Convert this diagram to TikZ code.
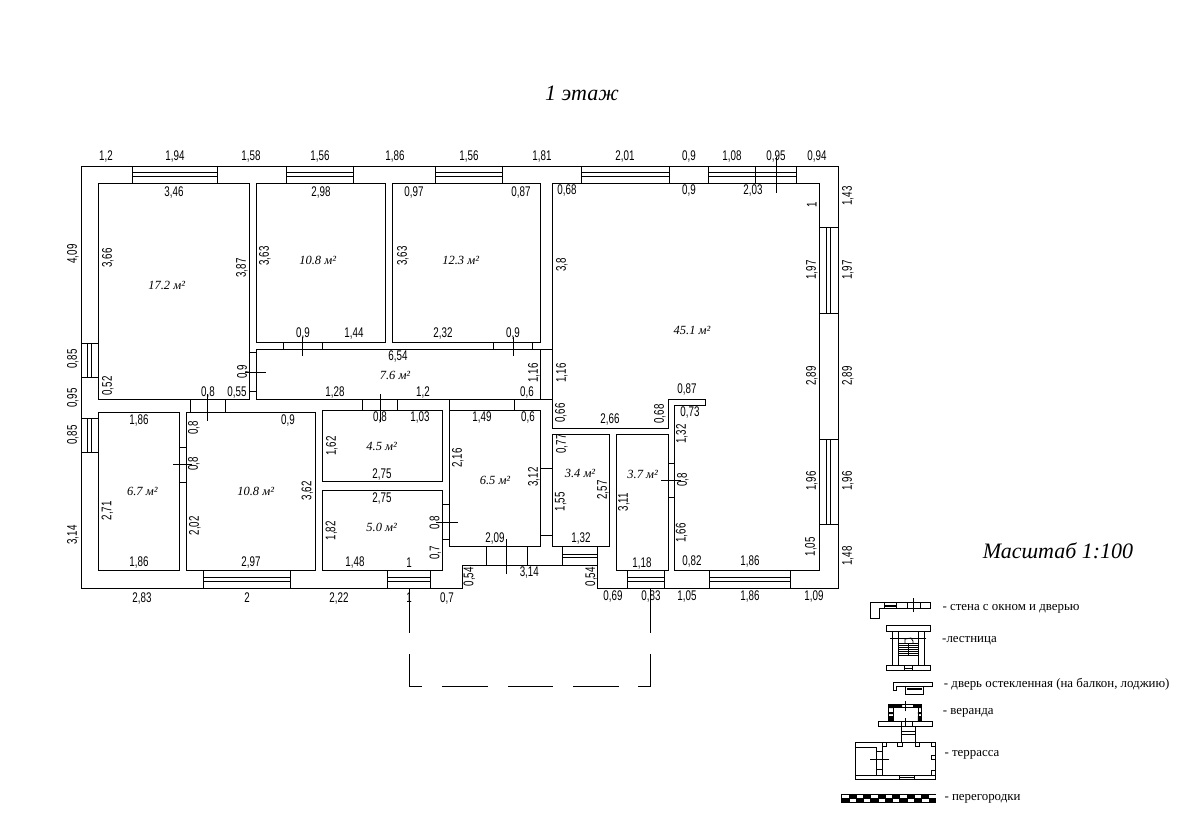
\documentclass[tikz,border=0pt]{standalone}
\usepackage{fontspec}
\setmainfont{Liberation Serif}
\newfontfamily\dimfont{Liberation Sans}
\usepackage{tikz}
\tikzset{
 wall/.style={line width=1pt,line cap=rect,line join=miter},
 hdim/.style={font=\dimfont\fontsize{14}{14}\selectfont,yshift=-1pt,xscale=.7,inner sep=0pt},
 vdim/.style={font=\dimfont\fontsize{14}{14}\selectfont,xshift=.8pt,rotate=90,xscale=.7,inner sep=0pt},
 area/.style={font=\itshape\fontsize{12.5}{13}\selectfont,inner sep=0pt},
 head/.style={font=\itshape\fontsize{22}{24}\selectfont,inner sep=0pt},
 note/.style={font=\fontsize{12.9}{14}\selectfont,yshift=-2.5pt,inner sep=0pt,anchor=west},
 thin wall/.style={line width=.8pt,line cap=rect}
}
\begin{document}
\begin{tikzpicture}[x=1pt,y=-1pt]
\useasboundingbox (0,0) rectangle (1188,822);

\path (582,93) node[name=title,head] {1 этаж};
\path (1058,551) node[name=scale,head] {Масштаб 1:100};

\draw[wall] (81,166) -- (838,166) -- (838,588) -- (597.5,588) -- (597.5,565) -- (462,565) -- (462,588) -- (81,588) -- cycle;

\foreach \a/\b/\c/\d in {98.3/183.3/249.3/399.3, 256.3/183.3/385.3/342.3, 392.3/183.3/540.3/342.3,
    256.3/349.3/540.3/399.3, 98.3/412.3/179.3/570.3, 186.3/412.3/315.7/570.3, 322.3/410.3/442.7/481.3,
    322.3/490.3/442.7/570.3, 449.3/410.3/540.3/546.3, 552.3/434.3/609.3/546.3, 616.3/434.3/668.3/570.3}
  \draw[wall] (\a,\b) rectangle (\c,\d);

\draw[wall] (552.3,183.3) -- (819.3,183.3) -- (819.3,570.3) -- (674.3,570.3) -- (674.3,405.3) -- (705.3,405.3)
    -- (705.3,399.3) -- (668.3,399.3) -- (668.3,428.3) -- (552.3,428.3) -- cycle;
\draw[wall] (540.3,349.3) -- (552.3,349.3) (540.3,399.3) -- (552.3,399.3) (449.3,399.3) -- (449.3,410.3);

% windows along x
\foreach \a/\c/\b/\d/\e/\f in {132.3/217.3/166/183.3/172/176, 286.7/353/166/183.3/172/176, 435.7/502.3/166/183.3/172/176,
    581/669/166/183.3/172/176, 708/796.7/166/183.3/172/176, 203.7/290.3/570.3/588/577.3/581.3,
    387.7/430.3/570.3/588/577.3/581.3, 627.3/664.3/570.3/588/577.3/581.3, 709.3/790.3/570.3/588/577.3/581.3,
    562.3/597.5/546.3/565/554.3/557.3}
  \draw[wall] (\a,\b) -- (\a,\d) (\c,\b) -- (\c,\d) (\a,\e) -- (\c,\e) (\a,\f) -- (\c,\f);
% windows along y
\foreach \b/\d/\a/\c/\e/\f in {343.3/377.3/81/98.3/87.3/91.3, 418.7/452.3/81/98.3/87.3/91.3,
    227.3/313.3/819.3/838/826.3/830.3, 439.3/524.3/819.3/838/826.3/830.3}
  \draw[wall] (\a,\b) -- (\c,\b) (\a,\d) -- (\c,\d) (\e,\b) -- (\e,\d) (\f,\b) -- (\f,\d);
\draw[wall] (755.3,166) -- (755.3,183.3);

% door ticks
\foreach \a/\b/\d in {283/342.3/349.3, 322/342.3/349.3, 493/342.3/349.3, 532/342.3/349.3, 190.3/399.3/412.3, 225.3/399.3/412.3,
    362.7/399.3/410.3, 397.3/399.3/410.3, 514.3/399.3/410.3, 486.3/546.3/565, 527.3/546.3/565}
  \draw[wall] (\a,\b) -- (\a,\d);
\foreach \b/\a/\c in {352/249.3/256.3, 391/249.3/256.3, 447.3/179.3/186.3, 482.3/179.3/186.3, 504.3/442.7/449.3, 539/442.7/449.3,
    468/540.3/552.3, 535.3/540.3/552.3, 463/668.3/674.3, 497/668.3/674.3}
  \draw[wall] (\a,\b) -- (\c,\b);
% door axes
\foreach \a/\b/\d in {302/337/355, 513/337/355, 207.3/394/420.7, 380.3/394/421.7, 506.3/539/573.3, 776.3/157/192}
  \draw[wall] (\a,\b) -- (\a,\d);
\foreach \b/\a/\c in {372/245/265, 464.3/173.3/191.7, 522.3/436.7/457.7, 480.3/661/680}
  \draw[wall] (\a,\b) -- (\c,\b);

% porch
\draw[wall] (409.3,588) -- (409.3,632) (409.3,654) -- (409.3,686.7) -- (421,686.7)
    (442,686.7) -- (487,686.7) (508,686.7) -- (552,686.7) (573,686.7) -- (618,686.7)
    (638,686.7) -- (650.3,686.7) -- (650.3,654) (650.3,632.7) -- (650.3,588);

\foreach \x/\y/\t [count=\i] in {106/156/{1,2}, 175/156/{1,94}, 251/156/{1,58}, 320/156/{1,56}, 395/156/{1,86}, 469/156/{1,56},
    542/156/{1,81}, 625/156/{2,01}, 689/156/{0,9}, 732/156/{1,08}, 776/156/{0,95}, 817/156/{0,94},
    174/192/{3,46}, 321/192/{2,98}, 414/192/{0,97}, 521/192/{0,87}, 567/190/{0,68}, 689/190/{0,9}, 753/190/{2,03},
    303/333/{0,9}, 354/333/{1,44}, 443/333/{2,32}, 513/333/{0,9}, 398/356/{6,54}, 335/392/{1,28}, 423/392/{1,2},
    527/392/{0,6}, 687/389/{0,87}, 690/412/{0,73}, 610/419/{2,66}, 208/392/{0,8}, 237/392/{0,55},
    139/420/{1,86}, 288/420/{0,9}, 380/417/{0,8}, 420/417/{1,03}, 482/417/{1,49}, 528/417/{0,6},
    382/473/{2,75}, 382/497/{2,75}, 139/561/{1,86}, 251/561/{2,97}, 355/561/{1,48}, 409/562/{1}, 495/537/{2,09},
    581/537/{1,32}, 642/562/{1,18}, 692/560/{0,82}, 750/560/{1,86}, 529.3/571.3/{3,14},
    142/597/{2,83}, 247/597/{2}, 339/597/{2,22}, 409/597/{1}, 447/597/{0,7}, 613/595/{0,69}, 651/595/{0,83},
    687/595/{1,05}, 750/595/{1,86}, 814/595/{1,09}}
  \path (\x,\y) node[name=h\i,hdim] {\t};

\foreach \x/\y/\t [count=\i] in {72/254/{4,09}, 107/258/{3,66}, 241/268/{3,87}, 264/256/{3,63}, 402/256/{3,63}, 561/265/{3,8},
    811/205/{1}, 811/270/{1,97}, 847/196/{1,43}, 847/270/{1,97}, 72/359/{0,85}, 107/386/{0,52}, 242/372/{0,9},
    533/373/{1,16}, 561/373/{1,16}, 560/413/{0,66}, 659/414/{0,68}, 811/376/{2,89}, 847/376/{2,89}, 72/398/{0,95},
    72/435/{0,85}, 193/428/{0,8}, 193/464/{0,8}, 331/446/{1,62}, 457/458/{2,16}, 561/444/{0,77}, 681/434/{1,32},
    533/477/{3,12}, 602/490/{2,57}, 623/502/{3,11}, 682/480/{0,8}, 811/481/{1,96}, 847/481/{1,96}, 306.7/490.7/{3,62},
    106.7/510.7/{2,71}, 72/535/{3,14}, 194/525.7/{2,02}, 330.7/530.7/{1,82}, 434.7/523/{0,8}, 560/501.7/{1,55},
    680.7/533/{1,66}, 810/546.7/{1,05}, 847/556/{1,48}, 434.7/553/{0,7}, 468.7/576.7/{0,54}, 590.3/576.7/{0,54}}
  \path (\x,\y) node[name=v\i,vdim] {\t};

\foreach \x/\y/\t [count=\i] in {166.7/285.7/17.2, 317.7/260.7/10.8, 460.7/260/12.3, 692/330/45.1, 395/375/7.6, 381.7/446/4.5,
    381.7/527.7/5.0, 142.3/491/6.7, 255.7/491/10.8, 495/480.7/6.5, 580/473/3.4, 642.7/474.3/3.7}
  \path (\x,\y) node[name=r\i,area] {\t{} м²};

\path (942.3,606) node[name=n1,note] {- стена с окном и дверью};
\path (942,638) node[name=n2,note] {-лестница};
\path (943.7,682) node[name=n3,note] {- дверь остекленная (на балкон, лоджию)};
\path (942.7,710) node[name=n4,note] {- веранда};
\path (944.3,752) node[name=n5,note] {- террасса};
\path (944.3,796) node[name=n6,note] {- перегородки};

% legend: wall
\draw[thin wall] (870.7,602.7) -- (930.7,602.7) -- (930.7,608.3) -- (879.3,608.3) -- (879.3,618.3) -- (870.7,618.3) -- cycle;
\draw[thin wall] (884.3,602.7) -- (884.3,608.3) (896.7,602.7) -- (896.7,608.3) (884.3,605) -- (896.7,605) (884.3,606.5) -- (896.7,606.5);
\draw[thin wall] (907.3,602.7) -- (907.3,608.3) (920,602.7) -- (920,608.3) (913.3,598.3) -- (913.3,611.7);

% legend: stairs
\draw[thin wall] (886.3,625) -- (930.7,625) -- (930.7,631.3) -- (924.7,631.3) -- (924.7,665.7) -- (930.7,665.7) -- (930.7,670.7)
    -- (886.3,670.7) -- (886.3,665.7) -- (892.3,665.7) -- (892.3,631.3) -- (886.3,631.3) -- cycle;
\draw[thin wall] (898.7,631.3) rectangle (918.3,665.7) (892.3,631.3) -- (924.7,631.3) (892.3,665.7) -- (924.7,665.7);
\draw[thin wall] (890,638.3) -- (926,638.3) (904,665.7) rectangle (912.7,670.7) (904,668) -- (912.7,668);
\draw[thin wall] (905,643) -- (905,639) -- (911,638) -- (913,641) -- (913,643);
\foreach \y in {643,645,647,649,651,653,655}
  \draw[thin wall] (898.7,\y) -- (918.3,\y);
\draw[thin wall] (908.5,643) -- (908.5,655);

% legend: glazed door
\draw[thin wall] (893.3,682.3) -- (932.7,682.3) -- (932.7,686) -- (896.7,686) -- (896.7,690) -- (893.3,690) -- cycle;
\draw[thin wall] (905.3,686) rectangle (923.7,694.3);
\draw[line width=2pt] (907,688.6) -- (922,688.6);

% legend: veranda
\draw[thin wall] (888.3,704.3) rectangle (921.7,721.3) (893,707.5) rectangle (918,721.3) (878.3,721.3) rectangle (932.7,726.7);
\fill (888.3,704.3) rectangle (893,708) (917.8,704.3) rectangle (921.7,708) (893,704.3) rectangle (902,707.5) (913,704.3) rectangle (917.8,707.5)
    (888.3,712) rectangle (893,714) (917.8,712) rectangle (921.7,714) (888.3,716) rectangle (893,721.3) (917.8,716) rectangle (921.7,721.3);
\draw[thin wall] (905.7,701) -- (905.7,711) (905.7,718) -- (905.7,726.7) (901.7,721.3) -- (901.7,726.7) (912,721.3) -- (912,726.7);
\draw[thin wall] (901.7,726.7) rectangle (915.7,742.3) (901.7,731.5) -- (915.7,731.5) (901.7,734) -- (915.7,734);

% legend: terrace
\draw[thin wall] (855.3,742.3) rectangle (935.7,779.3) (855.3,775) -- (935.7,775) (882.3,742.3) -- (882.3,775);
\draw[thin wall] (855.3,747.3) -- (876.7,747.3) -- (876.7,775) (876.7,751.7) -- (882.3,751.7) (876.7,769.3) -- (882.3,769.3);
\draw[thin wall] (870,759.3) -- (889,759.3);
\foreach \a in {882.3,897.7,915,931.3}
  \draw[thin wall] (\a,742.3) rectangle (\a+4.4,746.7);
\draw[thin wall] (931.3,755) rectangle (935.7,759.3) (931.3,770.3) rectangle (935.7,775);
\draw[thin wall] (899.3,775) rectangle (914.7,779.3) (899.3,777.2) -- (914.7,777.2);

% legend: partitions
\fill (841,794) rectangle (936,802.7);
\foreach \a in {0,1,...,6}
  \fill[white] (842+14.55*\a,794.7) rectangle (848.5+14.55*\a,798);
\foreach \a in {0,1,...,5}
  \fill[white] (849.5+14.55*\a,798.7) rectangle (855.8+14.55*\a,802);
\end{tikzpicture}
\end{document}
